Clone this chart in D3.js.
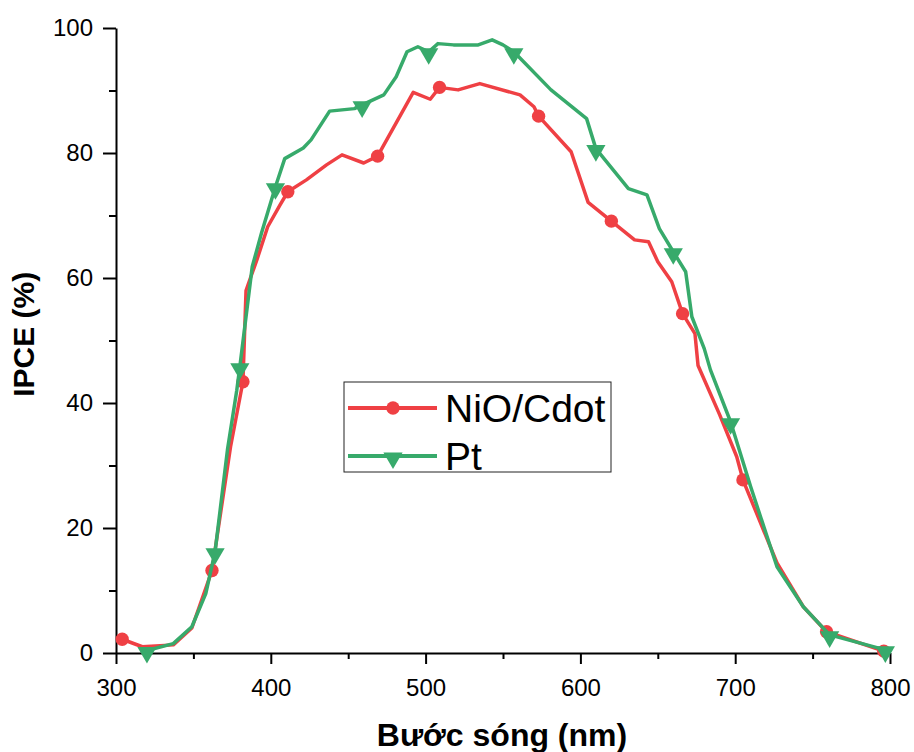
<!DOCTYPE html>
<html>
<head>
<meta charset="utf-8">
<script src="https://cdn.jsdelivr.net/npm/d3@7"></script>
<style>
  body { margin: 0; background: #fff; }
  svg { display: block; font-family: Arial, "Liberation Sans", sans-serif; }
  .axis path, .axis line { stroke: #000; stroke-width: 2; }
  .axis text { font-size: 24px; fill: #000; }
</style>
</head>
<body>
<div id="chart"></div>
<script>
// wavelength (nm) / IPCE (%)
const nioWl = [304, 317, 337, 349, 362, 374, 382, 384, 391, 398, 406, 411, 423, 436, 446, 460, 469,
  492, 503, 509, 521, 535, 561, 570, 573, 594, 605, 620, 635, 644, 650, 659, 666, 674, 676,
  690, 701, 705, 727, 744, 759, 796];
const nioVal = [2.2, 1.0, 1.3, 4.0, 13.2, 33, 43.4, 58, 62.9, 68.2, 71.7, 73.8, 75.7, 78.1, 79.7, 78.4, 79.5,
  89.7, 88.6, 90.5, 90.1, 91.1, 89.3, 87.4, 85.9, 80.2, 72.1, 69.1, 66.1, 65.8, 62.6, 59.4, 54.3, 51.1, 46,
  38.1, 31.4, 27.7, 14.4, 7.4, 3.4, 0.3];
const nioMarks = [304, 362, 382, 411, 469, 509, 573, 620, 666, 705, 759, 796];

const ptWl = [320, 337, 349, 358, 364, 372, 378, 380, 388, 394, 403, 409, 421, 426, 438, 454, 459,
  473, 481, 488, 495, 502, 508, 518, 534, 543, 550, 557, 581, 593, 604, 610, 631, 643, 651,
  660, 668, 672, 680, 684, 697, 710, 727, 744, 761, 797];
const ptVal = [0.4, 1.5, 4.2, 9.5, 16.2, 32.5, 42, 45.8, 61.8, 67.2, 74.6, 79.1, 80.8, 82.1, 86.7, 87.1, 87.7,
  89.3, 92.2, 96.2, 97, 96.2, 97.5, 97.3, 97.3, 98.1, 97.3, 96.2, 90.1, 87.7, 85.5, 80.7, 74.3, 73.3, 67.9,
  64.2, 61, 53.8, 48.7, 45.3, 37, 26.6, 13.8, 7.4, 2.9, 0.5];
const ptMarks = [320, 364, 380, 403, 459, 502, 557, 610, 660, 697, 761, 797];

const xTicks = [300, 400, 500, 600, 700, 800];
const yTicks = [0, 20, 40, 60, 80, 100];

const series = [
  { name: "NiO/Cdot", color: "#ef4044", symbol: "circle", wl: nioWl, val: nioVal, marks: nioMarks },
  { name: "Pt", color: "#37aa6b", symbol: "triangle", wl: ptWl, val: ptVal, marks: ptMarks },
];

const width = 914, height = 752;
const margin = { top: 28, right: 24, bottom: 99, left: 116 };

const svg = d3.select("#chart").append("svg")
  .attr("width", width)
  .attr("height", height);

const x = d3.scaleLinear().domain([300, 800]).range([margin.left, width - margin.right]);
const y = d3.scaleLinear().domain([0, 100]).range([height - margin.bottom, margin.top]);

// minor ticks first, then the major axes on top
svg.append("g")
  .attr("class", "axis")
  .attr("transform", `translate(0,${y(0)})`)
  .call(d3.axisBottom(x).tickValues([350, 450, 550, 650, 750]).tickSize(6).tickFormat(""))
  .call((g) => g.select(".domain").remove());
svg.append("g")
  .attr("class", "axis")
  .attr("transform", `translate(${x(300)},0)`)
  .call(d3.axisLeft(y).tickValues([10, 30, 50, 70, 90]).tickSize(7).tickFormat(""))
  .call((g) => g.select(".domain").remove());

svg.append("g")
  .attr("class", "axis")
  .attr("transform", `translate(0,${y(0)})`)
  .call(d3.axisBottom(x).tickValues(xTicks).tickSize(11).tickSizeOuter(0).tickPadding(9))
  .call((g) => g.selectAll("text").attr("dy", "0.95em"));
svg.append("g")
  .attr("class", "axis")
  .attr("transform", `translate(${x(300)},0)`)
  .call(d3.axisLeft(y).tickValues(yTicks).tickSize(13).tickSizeOuter(0).tickPadding(10));

svg.append("text")
  .attr("x", 502)
  .attr("y", 746)
  .attr("text-anchor", "middle")
  .attr("font-size", 32)
  .attr("font-weight", "bold")
  .text("Bước sóng (nm)");

svg.append("text")
  .attr("transform", `translate(34,${y(51)}) rotate(-90)`)
  .attr("text-anchor", "middle")
  .attr("font-size", 30)
  .attr("font-weight", "bold")
  .text("IPCE (%)");

const line = d3.line().x((d) => x(d[0])).y((d) => y(d[1]));
const circle = d3.symbol().type(d3.symbolCircle).size(140);
const tri = d3.symbol().type(d3.symbolTriangle).size(160);

const drawMarker = (g, s) => {
  if (s.symbol === "circle") {
    g.append("path").attr("d", circle).attr("fill", s.color);
  } else {
    g.append("path").attr("d", tri).attr("transform", "rotate(180) translate(0,-2)").attr("fill", s.color);
  }
};

series.forEach((s) => {
  const pts = s.wl.map((w, i) => [w, s.val[i]]);
  const g = svg.append("g");
  g.append("path")
    .datum(pts)
    .attr("fill", "none")
    .attr("stroke", s.color)
    .attr("stroke-width", 3.5)
    .attr("stroke-linejoin", "round")
    .attr("d", line);
  g.selectAll(".mk")
    .data(pts.filter((d) => s.marks.includes(d[0])))
    .join("g")
    .attr("class", "mk")
    .attr("transform", (d) => `translate(${x(d[0])},${y(d[1])})`)
    .each(function () { drawMarker(d3.select(this), s); });
});

// legend
const legend = svg.append("g").attr("transform", "translate(344,382)");
legend.append("rect")
  .attr("width", 267).attr("height", 90)
  .attr("fill", "#fff").attr("stroke", "#222").attr("stroke-width", 1);
series.forEach((s, i) => {
  const row = legend.append("g").attr("transform", `translate(0,${26 + i * 48})`);
  row.append("line").attr("x1", 4).attr("x2", 93)
    .attr("stroke", s.color).attr("stroke-width", 4);
  const m = row.append("g").attr("transform", "translate(49,0)");
  drawMarker(m, s);
  row.append("text")
    .attr("x", 101).attr("y", 0).attr("dy", "0.36em")
    .attr("font-size", 39)
    .text(s.name);
});
</script>
</body>
</html>
